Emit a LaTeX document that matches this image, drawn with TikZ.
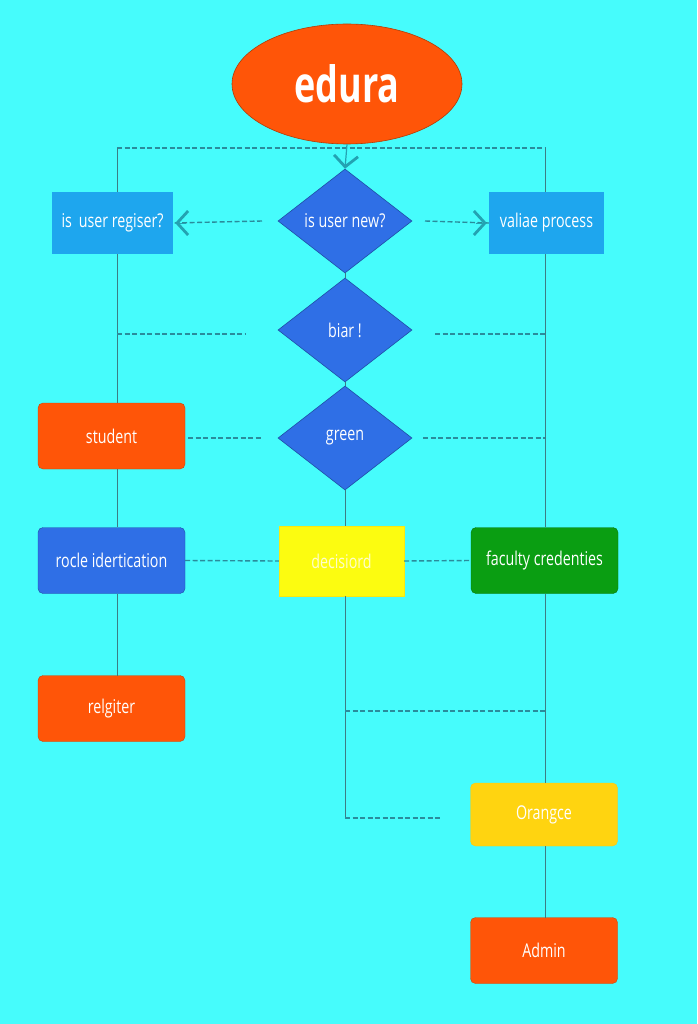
\documentclass[tikz,border=0pt]{standalone}
\usepackage{fontspec}
\setmainfont[FakeStretch=0.75]{Open Sans}
\newfontfamily\titlefont[FakeStretch=0.72]{Open Sans}
\usetikzlibrary{shapes.geometric,arrows.meta}
\definecolor{bg}{HTML}{46FCFC}
\definecolor{dashc}{HTML}{2A8C9C}
\definecolor{solidl}{HTML}{3C7C84}
\definecolor{orng}{HTML}{FF5508}
\definecolor{lblue}{HTML}{1EA6EE}
\definecolor{dblue}{HTML}{2F6FE6}
\definecolor{dbluee}{HTML}{1E4EA6}
\definecolor{yel}{HTML}{FCFC10}
\definecolor{gold}{HTML}{FFD410}
\definecolor{grn}{HTML}{0A9E12}
\definecolor{arr}{HTML}{23A2B2}
\tikzset{
  boxbase/.style={inner sep=0pt, text=white, font=\fontsize{19}{22}\selectfont},
  rbox/.style={boxbase, rounded corners=5pt, minimum width=147pt, minimum height=66pt},
  sqbox/.style={boxbase, minimum width=121pt, minimum height=62pt},
  dia/.style={diamond, fill=dblue, draw=dbluee, line width=0.6pt, inner sep=0pt, minimum width=134pt, minimum height=104pt, text=white, font=\fontsize{19}{22}\selectfont},
  dl/.style={draw=dashc, dashed, dash pattern=on 5pt off 2.5pt, line width=1.4pt},
  sl/.style={draw=solidl, line width=0.8pt},
  ah/.style={-{Straight Barb[length=11pt,width=24pt,line width=2.8pt]}, draw=arr},
}
\begin{document}
\begin{tikzpicture}[x=1pt,y=-1pt]
\fill[bg] (0,0) rectangle (697,1024);
\useasboundingbox (0,0) rectangle (697,1024);

% nodes
\node[ellipse, fill=orng, draw=orng!70!black, line width=0.6pt, minimum width=230pt, minimum height=120pt, inner sep=0pt, text=white, font=\titlefont\fontsize{50}{56}\selectfont\bfseries] (edura) at (347,84) {edura};

\node[dia] (d1) at (345,221) {is user new?};
\node[dia] (d2) at (345,330) {biar !};
\node[dia] (d3) at (345,438) {green};

\node[sqbox, fill=lblue] (reg) at (112.5,223) {is\, user regiser?};
\node[sqbox, fill=lblue, minimum width=115pt] (val) at (546.5,223) {valiae process};

\node[rbox, fill=orng, draw=orng!80!black] (stu) at (111.5,436) {student};
\node[rbox, fill=dblue, draw=dbluee] (rocle) at (111.5,560.5) {rocle idertication};
\node[sqbox, fill=yel, draw=yel!85!orange, minimum width=125pt, minimum height=70pt, text=white!80!yellow] (dec) at (341.5,561) {decisiord};
\node[rbox, fill=grn, draw=grn!75!black] (fac) at (544.5,560.5) {faculty credenties};
\node[rbox, fill=orng, draw=orng!80!black] (relg) at (111.5,708.5) {relgiter};
\node[rbox, fill=gold, draw=gold!85!orange, minimum height=63pt] (ora) at (544,814.5) {Orangce};
\node[rbox, fill=orng, draw=orng!80!black] (adm) at (544,950.5) {Admin};

% coordinates
\coordinate (tl) at (117,148);
\coordinate (tr) at (545,148);
\coordinate (regtop) at (117,192);
\coordinate (valtop) at (545,192);

% top bus
\draw[dl] (tl) -- (tr);
\draw[sl] (tl) -- (regtop);
\draw[sl] (tr) -- (valtop);
\draw[ah, line width=1.2pt] (edura.south) -- (d1.north);

% side arrows
\coordinate (a1s) at (262,221);
\coordinate (a2s) at (425,221);
\draw[dl] (a1s) -- (reg.east);
\draw[ah] ([xshift=13pt]reg.east) -- ([xshift=2pt]reg.east);
\draw[dl] (a2s) -- (val.west);
\draw[ah] ([xshift=-13pt]val.west) -- ([xshift=-2pt]val.west);

% center spine
\coordinate (dectop) at (345,526);
\draw[sl] (d1.south) -- (d2.north);
\draw[sl] (d2.south) -- (d3.north);
\draw[sl] (d3.south) -- (dectop);

% left spine
\coordinate (ls1) at (117,254);
\coordinate (ls2) at (117,403);
\coordinate (ls3) at (117,469);
\coordinate (ls4) at (117,527);
\coordinate (ls5) at (117,594);
\coordinate (ls6) at (117,676);
\draw[sl] (ls1) -- (ls2);
\draw[sl] (ls3) -- (ls4);
\draw[sl] (ls5) -- (ls6);

% right spine
\coordinate (rs1) at (545,254);
\coordinate (rs2) at (545,527);
\coordinate (rs3) at (545,594);
\coordinate (rs4) at (545,783);
\coordinate (rs5) at (545,846);
\coordinate (rs6) at (545,918);
\draw[sl] (rs1) -- (rs2);
\draw[sl] (rs3) -- (rs4);
\draw[sl] (rs5) -- (rs6);

% biar dashes
\coordinate (b1) at (117,334);
\coordinate (b2) at (245,334);
\coordinate (b3) at (435,334);
\coordinate (b4) at (545,334);
\draw[dl] (b1) -- (b2);
\draw[dl] (b3) -- (b4);

% green dashes
\coordinate (g1) at (188,438);
\coordinate (g2) at (262,438);
\coordinate (g3) at (423,438);
\coordinate (g4) at (545,438);
\draw[dl] (g1) -- (g2);
\draw[dl] (g3) -- (g4);

% decision row dashes
\draw[dl] (rocle.east) -- (dec.west);
\draw[dl] (dec.east) -- (fac.west);

% lower
\coordinate (c0) at (345,596);
\coordinate (c1) at (345,711);
\coordinate (c2) at (545,711);
\coordinate (c3) at (345,818);
\coordinate (c4) at (442,818);
\draw[sl] (c0) -- (c3);
\draw[dl] (c1) -- (c2);
\draw[dl] (c3) -- (c4);
\end{tikzpicture}
\end{document}
